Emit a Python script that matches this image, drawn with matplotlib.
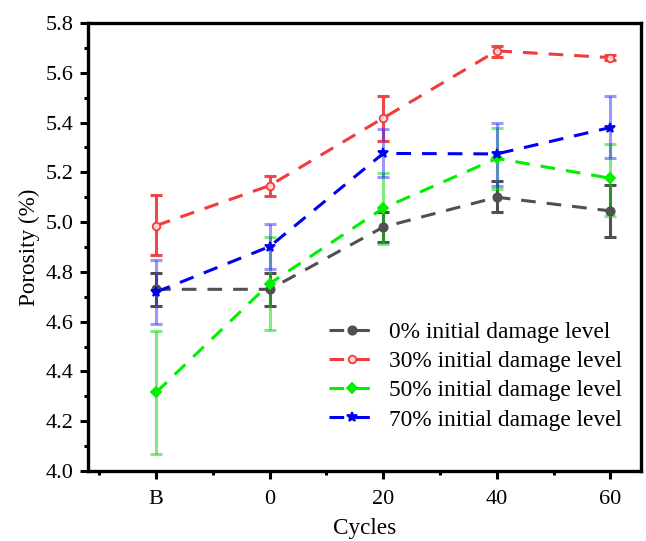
import matplotlib
matplotlib.use("Agg")
import matplotlib.pyplot as plt
from matplotlib.ticker import MultipleLocator, FixedLocator, FormatStrFormatter

plt.rcParams['font.family'] = ['Liberation Serif', 'DejaVu Serif']

cycles = ["B", "0", "20", "40", "60"]

labels = ["0% initial damage level", "30% initial damage level",
          "50% initial damage level", "70% initial damage level"]

porosity_0 = [4.73, 4.73, 4.98, 5.10, 5.045]
lower_0 = [4.662, 4.662, 4.919, 5.04, 4.94]
upper_0 = [4.795, 4.795, 5.04, 5.164, 5.15]

porosity_30 = [4.986, 5.147, 5.418, 5.688, 5.661]
lower_30 = [4.866, 5.104, 5.326, 5.665, 5.651]
upper_30 = [5.107, 5.187, 5.505, 5.708, 5.671]

porosity_50 = [4.316, 4.753, 5.056, 5.256, 5.176]
lower_50 = [4.07, 4.565, 4.914, 5.134, 5.024]
upper_50 = [4.563, 4.94, 5.199, 5.378, 5.314]

porosity_70 = [4.719, 4.902, 5.276, 5.274, 5.38]
lower_70 = [4.589, 4.813, 5.18, 5.147, 5.256]
upper_70 = [4.846, 4.993, 5.374, 5.40, 5.508]

# (values, lower, upper, line colour, error-bar colour, marker, face colour, marker size)
series = [
    (porosity_0, lower_0, upper_0, "#505050", (0.31, 0.31, 0.31, 1.0), "o", "#505050", 6),
    (porosity_30, lower_30, upper_30, "#F03C3C", (0.94, 0.24, 0.24, 0.95), "o", "#FFD0D0", 5.5),
    (porosity_50, lower_50, upper_50, "#00F000", (0.0, 0.85, 0.0, 0.5), "D", "#00F000", 5.5),
    (porosity_70, lower_70, upper_70, "#0000F0", (0.2, 0.2, 1.0, 0.5), "*", "#0000F0", 7.5),
]

fig = plt.figure(figsize=(6.46, 5.41), dpi=100)
ax = fig.add_axes([88 / 646, 1 - 471 / 541, (641 - 88) / 646, (471 - 23) / 541])

x = list(range(len(cycles)))
handles = []
for (vals, lo, hi, color, ecol, mk, mfc, ms), lab in zip(series, labels):
    yerr = [[v - l for v, l in zip(vals, lo)], [h - v for v, h in zip(vals, hi)]]
    ax.errorbar(x, vals, yerr=yerr, fmt="none", ecolor=ecol, elinewidth=2.2,
                capsize=4, capthick=2.2, zorder=2)
    h, = ax.plot(x, vals, linestyle=(0, (4.8, 3.6)), color=color, linewidth=2.2,
                 marker=mk, markersize=ms, markerfacecolor=mfc,
                 markeredgecolor=color, markeredgewidth=1.3, zorder=3, label=lab)
    handles.append(h)

ax.set_xlim(-0.6, 4.27)
ax.set_ylim(4.0, 5.8)
ax.set_xticks(x)
ax.set_xticklabels(cycles)
ax.xaxis.set_minor_locator(FixedLocator([-0.5, 0.5, 1.5, 2.5, 3.5]))
ax.yaxis.set_major_locator(MultipleLocator(0.2))
ax.yaxis.set_minor_locator(MultipleLocator(0.1))
ax.yaxis.set_major_formatter(FormatStrFormatter("%.1f"))

for sp in ax.spines.values():
    sp.set_linewidth(2.4)
ax.tick_params(which="major", direction="out", length=5.5, width=2.2,
               labelsize=16, pad=5)
ax.tick_params(which="minor", direction="out", length=3, width=2.2)
ax.tick_params(axis="x", which="major", pad=8)

ax.set_xlabel("Cycles", fontsize=16.7, labelpad=6.5)
ax.set_ylabel("Porosity (%)", fontsize=16.7, labelpad=4)

ax.legend(handles=handles, loc="upper left", bbox_to_anchor=(0.436, 0.334),
          frameon=False, fontsize=16.8, handlelength=2.0, handletextpad=0.55,
          labelspacing=0.34, borderaxespad=0, borderpad=0)

fig.savefig("out.png", dpi=100)
